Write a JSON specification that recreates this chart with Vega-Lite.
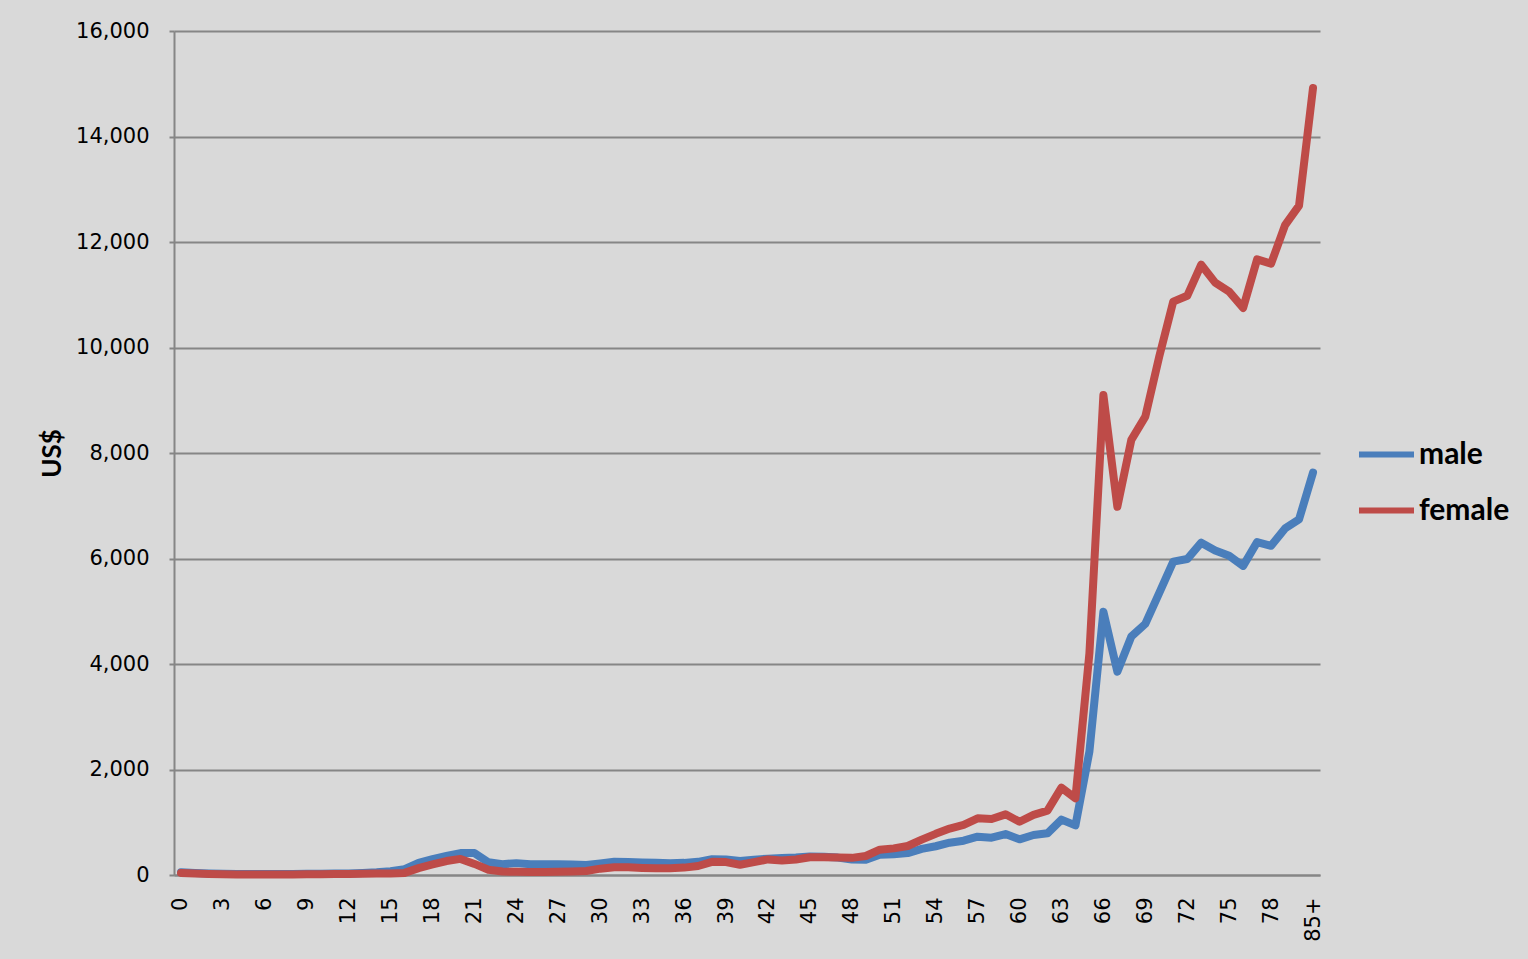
{
  "$schema": "https://vega.github.io/schema/vega-lite/v6.json",
  "width": 1146,
  "height": 844,
  "autosize": "none",
  "padding": {"left": 174, "top": 31, "right": 208, "bottom": 84},
  "background": "#D9D9D9",
  "config": {"view": {"stroke": null, "fill": "#D9D9D9"}},
  "data": {"values": [
    {"age": "0", "male": 50, "female": 40},
    {"age": "1", "male": 40, "female": 30},
    {"age": "2", "male": 30, "female": 20},
    {"age": "3", "male": 25, "female": 15},
    {"age": "4", "male": 20, "female": 10},
    {"age": "5", "male": 20, "female": 10},
    {"age": "6", "male": 20, "female": 10},
    {"age": "7", "male": 20, "female": 10},
    {"age": "8", "male": 20, "female": 10},
    {"age": "9", "male": 22, "female": 12},
    {"age": "10", "male": 25, "female": 15},
    {"age": "11", "male": 28, "female": 18},
    {"age": "12", "male": 30, "female": 20},
    {"age": "13", "male": 40, "female": 25},
    {"age": "14", "male": 50, "female": 30},
    {"age": "15", "male": 70, "female": 30},
    {"age": "16", "male": 110, "female": 40},
    {"age": "17", "male": 230, "female": 130},
    {"age": "18", "male": 300, "female": 200},
    {"age": "19", "male": 360, "female": 265},
    {"age": "20", "male": 415, "female": 305},
    {"age": "21", "male": 415, "female": 210},
    {"age": "22", "male": 240, "female": 100},
    {"age": "23", "male": 205, "female": 65},
    {"age": "24", "male": 225, "female": 60},
    {"age": "25", "male": 205, "female": 55},
    {"age": "26", "male": 205, "female": 55},
    {"age": "27", "male": 205, "female": 60},
    {"age": "28", "male": 200, "female": 65},
    {"age": "29", "male": 190, "female": 75},
    {"age": "30", "male": 220, "female": 120},
    {"age": "31", "male": 250, "female": 145},
    {"age": "32", "male": 245, "female": 145},
    {"age": "33", "male": 235, "female": 135},
    {"age": "34", "male": 230, "female": 130},
    {"age": "35", "male": 225, "female": 130},
    {"age": "36", "male": 230, "female": 140},
    {"age": "37", "male": 250, "female": 170},
    {"age": "38", "male": 300, "female": 250},
    {"age": "39", "male": 295, "female": 245},
    {"age": "40", "male": 265, "female": 195},
    {"age": "41", "male": 290, "female": 245},
    {"age": "42", "male": 310, "female": 295},
    {"age": "43", "male": 320, "female": 275},
    {"age": "44", "male": 330, "female": 295},
    {"age": "45", "male": 350, "female": 335},
    {"age": "46", "male": 345, "female": 335},
    {"age": "47", "male": 330, "female": 330},
    {"age": "48", "male": 295, "female": 325},
    {"age": "49", "male": 290, "female": 360},
    {"age": "50", "male": 385, "female": 480},
    {"age": "51", "male": 395, "female": 505},
    {"age": "52", "male": 415, "female": 550},
    {"age": "53", "male": 495, "female": 670},
    {"age": "54", "male": 545, "female": 780},
    {"age": "55", "male": 612, "female": 880},
    {"age": "56", "male": 650, "female": 950},
    {"age": "57", "male": 727, "female": 1075},
    {"age": "58", "male": 708, "female": 1060},
    {"age": "59", "male": 777, "female": 1150},
    {"age": "60", "male": 676, "female": 1010},
    {"age": "61", "male": 758, "female": 1140},
    {"age": "62", "male": 790, "female": 1220},
    {"age": "63", "male": 1050, "female": 1655},
    {"age": "64", "male": 940, "female": 1455},
    {"age": "65", "male": 2340, "female": 4200},
    {"age": "66", "male": 4990, "female": 9100},
    {"age": "67", "male": 3855, "female": 6980},
    {"age": "68", "male": 4520, "female": 8250},
    {"age": "69", "male": 4760, "female": 8690},
    {"age": "70", "male": 5350, "female": 9830},
    {"age": "71", "male": 5940, "female": 10870},
    {"age": "72", "male": 5990, "female": 10980},
    {"age": "73", "male": 6300, "female": 11570},
    {"age": "74", "male": 6150, "female": 11230},
    {"age": "75", "male": 6050, "female": 11060},
    {"age": "76", "male": 5860, "female": 10750},
    {"age": "77", "male": 6310, "female": 11670},
    {"age": "78", "male": 6240, "female": 11590},
    {"age": "79", "male": 6570, "female": 12320},
    {"age": "80", "male": 6740, "female": 12690},
    {"age": "85+", "male": 7630, "female": 14920}
  ]},
  "transform": [{"fold": ["male", "female"], "as": ["sex", "value"]}],
  "mark": {"type": "line", "strokeWidth": 8, "strokeCap": "round", "strokeJoin": "round"},
  "encoding": {
    "x": {
      "field": "age", "type": "ordinal", "sort": null,
      "scale": {"type": "point", "padding": 0.5},
      "axis": {
        "title": null,
        "labelAngle": -90,
        "labelFont": "DejaVu Sans",
        "labelFontSize": 21,
        "labelColor": "#000000",
        "labelPadding": 22,
        "labelOverlap": false,
        "labelExpr": "(toNumber(datum.value) % 3 == 0 || datum.value == '85+') ? datum.value : ''",
        "ticks": false,
        "domain": true,
        "domainColor": "#868686",
        "domainWidth": 2,
        "grid": false
      }
    },
    "y": {
      "field": "value", "type": "quantitative",
      "scale": {"domain": [0, 16000], "nice": false},
      "axis": {
        "values": [0, 2000, 4000, 6000, 8000, 10000, 12000, 14000, 16000],
        "format": ",.0f",
        "labelFont": "DejaVu Sans",
        "labelFontSize": 21,
        "labelColor": "#000000",
        "labelPadding": 20,
        "ticks": true,
        "tickSize": 5,
        "tickColor": "#868686",
        "tickWidth": 2,
        "domain": true,
        "domainColor": "#868686",
        "domainWidth": 2,
        "grid": true,
        "gridColor": "#868686",
        "gridWidth": 2,
        "title": "US$",
        "titleFont": "Lato",
        "titleFontSize": 26,
        "titleFontWeight": "bold",
        "titleColor": "#000000",
        "titleX": -122,
        "titleY": 422,
        "titleAngle": -90,
        "titleAlign": "center",
        "titleBaseline": "middle"
      }
    },
    "color": {
      "field": "sex", "type": "nominal",
      "scale": {"domain": ["male", "female"], "range": ["#4A7EBB", "#BE4B48"]},
      "legend": {
        "title": null,
        "orient": "none",
        "legendX": 1182,
        "legendY": 393,
        "symbolType": "stroke",
        "symbolSize": 3025,
        "symbolStrokeWidth": 6,
        "labelFont": "Lato",
        "labelFontSize": 30,
        "labelFontWeight": "bold",
        "labelColor": "#000000",
        "labelOffset": 2,
        "rowPadding": 10
      }
    }
  }
}
